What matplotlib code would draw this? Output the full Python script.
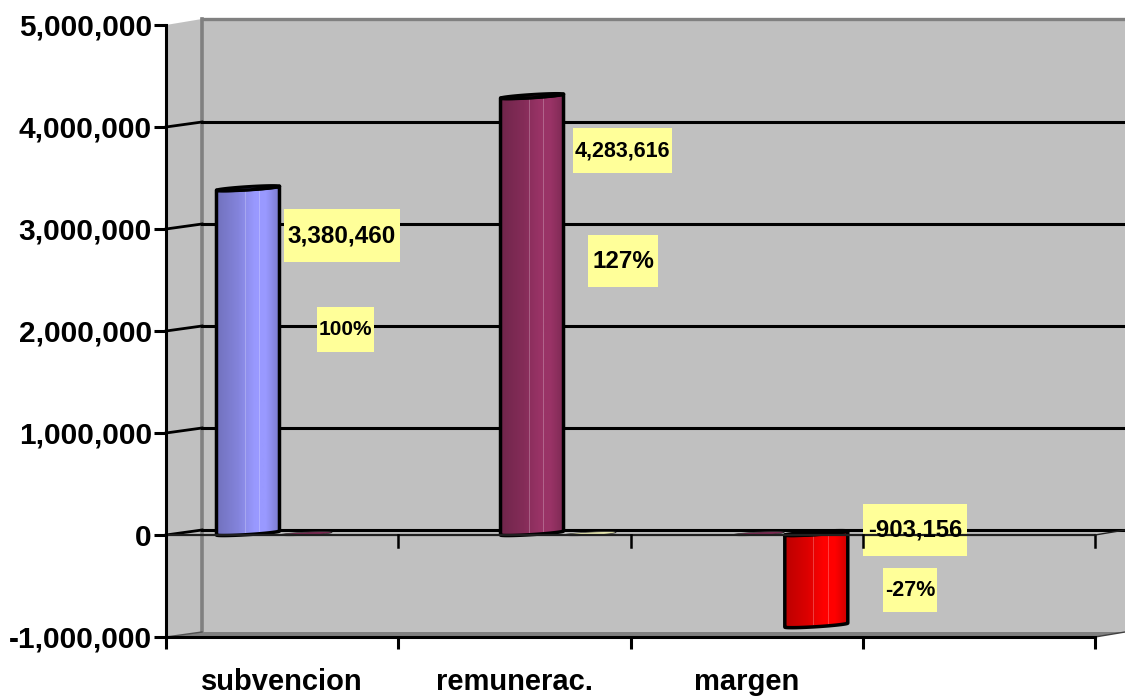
import numpy as np
import matplotlib
matplotlib.use('Agg')
import matplotlib.pyplot as plt
from matplotlib.patches import Polygon, Rectangle
from matplotlib.colors import to_rgb

W, H = 1125, 699

# data
categorias = ['subvencion', 'remunerac.', 'margen']
valores = [3380460, 4283616, -903156]
porcentajes = ['100%', '127%', '-27%']
etiquetas_valor = ['3,380,460', '4,283,616', '-903,156']
y_ticks = [-1000000, 0, 1000000, 2000000, 3000000, 4000000, 5000000]
y_labels = ['-1,000,000', '0', '1,000,000', '2,000,000', '3,000,000', '4,000,000', '5,000,000']

# estilo
centros = [0.353, 1.576, 2.80]
centros_planos = [0.603, 1.826, 2.55]
colores = ['#9999FF', '#993366', '#FF0000']
colores_planos = ['#7A2A52', '#E8E8B0', '#7A2A52']
amarillo = '#FFFF99'
caja_valor = [(284, 209, 400, 262), (573, 128, 672, 173), (863, 504, 967, 556)]
caja_pct = [(317, 307, 374, 352), (588, 235, 658, 287), (883, 568, 937, 612)]
tam_valor = [17.5, 15.5, 17.2]
tam_pct = [15, 17.5, 15.5]

plt.rcParams['font.family'] = ['Liberation Sans', 'DejaVu Sans']
plt.rcParams['font.weight'] = 'bold'

fig = plt.figure(figsize=(W / 100, H / 100), dpi=100)
ax = fig.add_axes([166 / W, 1 - 637 / H, (1095 - 166) / W, (637 - 25) / H])
ax.set_xlim(0, 4)
ax.set_ylim(-1000000, 5000000)
ax.patch.set_visible(False)

px_x = 4 / (1095 - 166)
px_y = 1000000 / 102


def px(x, y):
    # pixel de la imagen -> coordenadas de datos
    return (x - 166) * px_x, (535 - y) * px_y


# pared del fondo, pared lateral y suelo
ax.add_patch(Polygon([px(202, 19), px(1125, 19), px(1125, 632), px(202, 632)],
                     fc='#C0C0C0', ec='none', clip_on=False, zorder=0))
ax.add_patch(Polygon([px(166, 25), px(202, 19), px(202, 632), px(166, 637)],
                     fc='#C0C0C0', ec='none', clip_on=False, zorder=0))
ax.add_patch(Polygon([px(166, 637), px(202, 632), px(1125, 632), px(1095, 637)],
                     fc='#808080', ec='none', clip_on=False, zorder=1))
ax.plot(*zip(px(202, 19), px(1125, 19)), color='#808080', lw=2.4, clip_on=False, zorder=1)
ax.plot(*zip(px(202, 19), px(202, 632)), color='#808080', lw=2.6, clip_on=False, zorder=1)
ax.plot(*zip(px(1095, 637), px(1125, 632)), color='#404040', lw=1.0, clip_on=False, zorder=1)

# rejilla
for t in y_ticks[1:-1]:
    y_atras = t + 5 * px_y
    ax.plot([0, 36 * px_x], [t, y_atras], color='black', lw=2, clip_on=False, zorder=2)
    ax.plot([36 * px_x, 959 * px_x], [y_atras, y_atras], color='black', lw=2.2, clip_on=False, zorder=2)
ax.plot([0, 36 * px_x], [-1000000, -1000000 + 5 * px_y], color='#505050', lw=1, clip_on=False, zorder=2)


def gradiente(color):
    base = np.array(to_rgb(color))
    pos = [0, 0.35, 0.62, 0.8, 1]
    fac = [0.74, 0.86, 1, 1, 0.82]
    f = np.interp(np.linspace(0, 1, 64), pos, fac)
    return (base[None, :] * f[:, None])[None, :, :]


def elipse(cx, y0, a, alto=2):
    t = np.linspace(0, 2 * np.pi, 80)
    return np.column_stack([cx + a * px_x * np.cos(t),
                            y0 + (alto + alto * np.cos(t) + 1.6 * np.sin(t)) * px_y])


def cilindro(cx, valor, color):
    a = 31.5
    t = np.linspace(np.pi, 2 * np.pi, 40)
    x = cx + a * px_x * np.cos(t)
    ybase = min(valor, 0)
    ytop = max(valor, 0)
    abajo = ybase + (2 + 2 * np.cos(t) + 1.6 * np.sin(t)) * px_y
    arriba = ytop + (2 + 2 * np.cos(t[::-1]) + 1.6 * np.sin(t[::-1])) * px_y
    contorno = np.vstack([np.column_stack([x, abajo]), np.column_stack([x[::-1], arriba])])
    parche = Polygon(contorno, fc='none', ec='black', lw=2.5, clip_on=False, zorder=6, joinstyle='round')
    ax.add_patch(parche)
    ext = [cx - a * px_x, cx + a * px_x, ybase - 3 * px_y, ytop + 6 * px_y]
    im = ax.imshow(gradiente(color), extent=ext, aspect='auto', zorder=5, interpolation='bilinear')
    im.set_clip_path(parche)
    # brillos verticales del cilindro
    for f in (0.45, 0.68):
        ax.plot([cx + (2 * f - 1) * a * px_x] * 2, [ybase + 3 * px_y, ytop], color='white',
                alpha=0.25, lw=0.7, zorder=5.5)
    tapa = '#7777CC' if color == colores[0] else ('#7A2A52' if color == colores[1] else 'black')
    ax.add_patch(Polygon(elipse(cx, ytop, a), fc=tapa, ec='black', lw=2.2, clip_on=False, zorder=7))


for c, col in zip(centros_planos, colores_planos):
    ax.add_patch(Polygon(elipse(c, 0, 26, alto=1.3), fc=col, ec='#303030', lw=0.5, clip_on=False, zorder=4))

for c, v, col in zip(centros, valores, colores):
    cilindro(c, v, col)


def etiqueta(caja, texto, tam):
    x0, y0, x1, y1 = caja
    xa, ya = px(x0, y1)
    xb, yb = px(x1, y0)
    ax.add_patch(Rectangle((xa, ya), xb - xa, yb - ya, fc=amarillo, ec='none', clip_on=False, zorder=8))
    ax.text((xa + xb) / 2, (ya + yb) / 2, texto, ha='center', va='center', fontsize=tam,
            fontweight='bold', color='black', zorder=11)


for i in range(3):
    etiqueta(caja_valor[i], etiquetas_valor[i], tam_valor[i])
    etiqueta(caja_pct[i], porcentajes[i], tam_pct[i])

# eje en cero, por encima de las cajas
ax.plot([0, 4], [0, 0], color='#202020', lw=1.6, zorder=9, clip_on=False)
for k in range(1, 5):
    ax.plot([k, k], [0, -12 * px_y], color='black', lw=1.8, zorder=9, clip_on=False)
ax.plot([4, 959 * px_x], [0, 5 * px_y], color='#202020', lw=1, zorder=9, clip_on=False)

# ejes
for s in ('top', 'right'):
    ax.spines[s].set_visible(False)
for s in ('left', 'bottom'):
    ax.spines[s].set_linewidth(2.2)
    ax.spines[s].set_zorder(10)
ax.set_yticks(y_ticks)
ax.set_yticklabels(y_labels, fontsize=21.5, fontweight='bold')
ax.tick_params(axis='y', length=8.6, width=2.2, pad=1.5)
ax.set_xticks([0, 1, 2, 3, 4])
ax.set_xticklabels([])
ax.tick_params(axis='x', length=8.6, width=2.2)
ax.set_xticks([0.5, 1.5, 2.5], categorias, minor=True, fontsize=21, fontweight='bold')
ax.tick_params(axis='x', which='minor', length=0, pad=22)
ax.set_xlim(0, 4)
ax.set_ylim(-1000000, 5000000)

fig.savefig('out.png', dpi=100)
